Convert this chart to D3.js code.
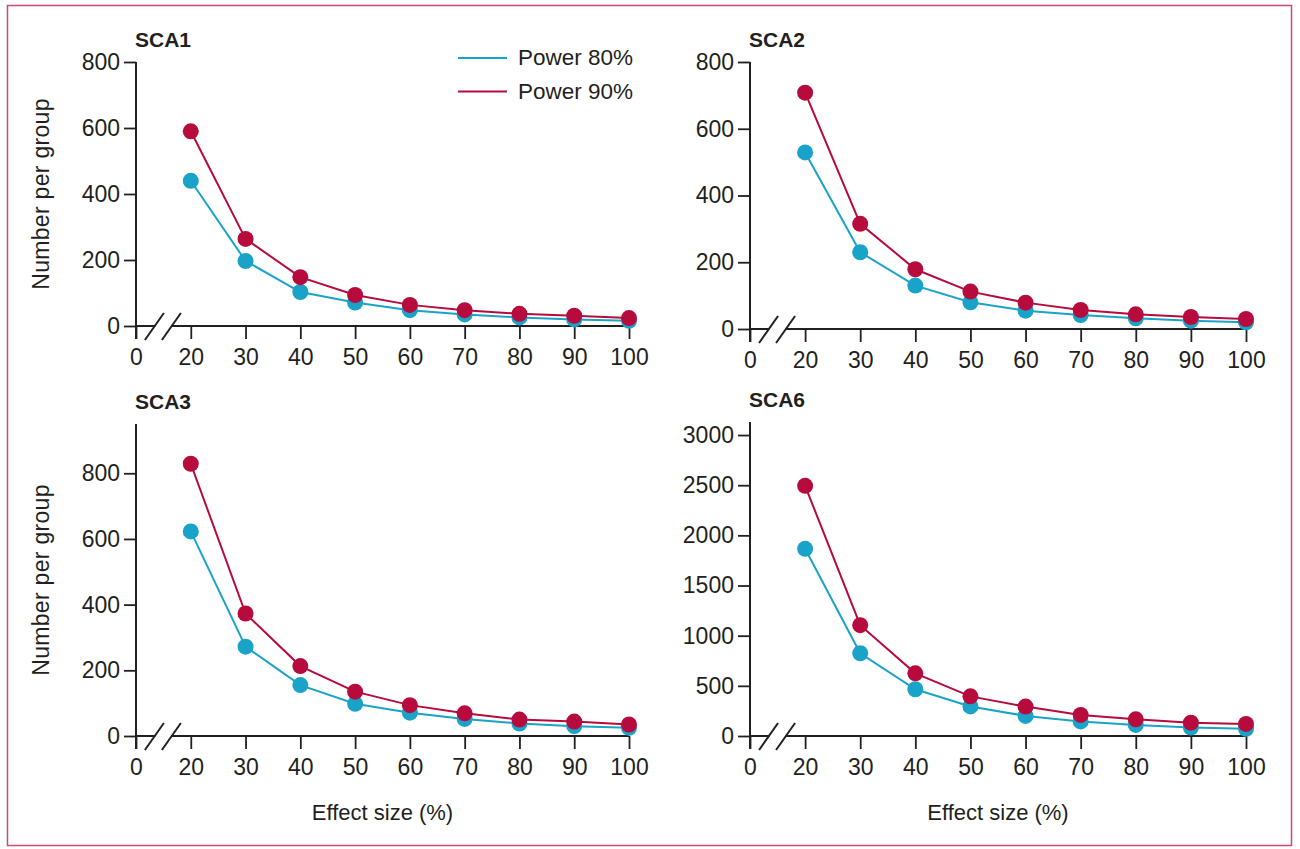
<!DOCTYPE html>
<html>
<head>
<meta charset="utf-8">
<script src="https://cdn.jsdelivr.net/npm/d3@7"></script>
<style>
  body { margin: 0; background: #fff; }
  text { font-family: "Liberation Sans", Arial, sans-serif; fill: #231f20; }
</style>
</head>
<body>
<svg id="chart" width="1300" height="849"></svg>
<script>
// data
const effectSizes = [20, 30, 40, 50, 60, 70, 80, 90, 100];
const xTickLabels = ["0", "20", "30", "40", "50", "60", "70", "80", "90", "100"];
const seriesNames = ["Power 80%", "Power 90%"];

const sca1_80 = [440, 197, 103, 71, 48, 35, 26, 20, 16];
const sca1_90 = [590, 264, 148, 94, 64, 48, 37, 31, 24];
const sca2_80 = [529, 230, 130, 80, 55, 42, 32, 25, 20];
const sca2_90 = [708, 315, 179, 112, 79, 57, 44, 36, 30];
const sca3_80 = [623, 272, 155, 98, 71, 52, 38, 30, 25];
const sca3_90 = [829, 373, 213, 135, 94, 69, 50, 44, 35];
const sca6_80 = [1866, 825, 466, 295, 200, 145, 110, 85, 72];
const sca6_90 = [2494, 1105, 625, 395, 293, 210, 166, 133, 120];

const ticksSmall = [0, 200, 400, 600, 800];
const ticksSca6 = [0, 500, 1000, 1500, 2000, 2500, 3000];

const colors = ["#1aa3c9", "#b70a3d"];
const ink = "#231f20";

// layout of the four panels
const panels = [
  { title: "SCA1", s80: sca1_80, s90: sca1_90, ticks: ticksSmall, yMax: 800, x0: 136, x1: 629, y0: 326, y1: 62, ylabel: true, xlabel: false, legend: true },
  { title: "SCA2", s80: sca2_80, s90: sca2_90, ticks: ticksSmall, yMax: 800, x0: 750, x1: 1246, y0: 329, y1: 62, ylabel: false, xlabel: false, legend: false },
  { title: "SCA3", s80: sca3_80, s90: sca3_90, ticks: ticksSmall, yMax: 950, x0: 136, x1: 629, y0: 736, y1: 424, ylabel: true, xlabel: true, legend: false },
  { title: "SCA6", s80: sca6_80, s90: sca6_90, ticks: ticksSca6, yMax: 3130, x0: 750, x1: 1246, y0: 736, y1: 422, ylabel: false, xlabel: true, legend: false }
];

const svg = d3.select("#chart");

// outer frame
svg.append("rect")
  .attr("x", 7.5).attr("y", 5.5)
  .attr("width", 1284).attr("height", 840)
  .attr("fill", "none")
  .attr("stroke", "#cc4a6e")
  .attr("stroke-width", 1.5);

panels.forEach(p => {
  const g = svg.append("g");

  const x = d3.scalePoint()
    .domain(xTickLabels)
    .range([p.x0, p.x1]);

  const y = d3.scaleLinear()
    .domain([0, p.yMax])
    .range([p.y0, p.y1]);

  const ay = y(0);

  // y axis
  const yAxisG = g.append("g")
    .attr("transform", `translate(${p.x0}, 0)`)
    .call(d3.axisLeft(y).tickValues(p.ticks).tickFormat(d3.format("d"))
      .tickSize(12).tickSizeOuter(0).tickPadding(4));
  yAxisG.select(".domain").remove();

  // x axis
  const xAxisG = g.append("g")
    .attr("transform", `translate(0, ${ay})`)
    .call(d3.axisBottom(x).tickSize(13).tickSizeOuter(0).tickPadding(10));
  xAxisG.select(".domain").remove();

  g.selectAll(".tick line").attr("stroke", ink).attr("stroke-width", 1.8);
  g.selectAll(".tick text").attr("font-size", 23).style("fill", ink);

  // axis lines with the break between 0 and 20
  const mid = (x("0") + x("20")) / 2;
  g.append("line")
    .attr("x1", p.x0).attr("x2", p.x0)
    .attr("y1", y(p.yMax)).attr("y2", ay + 13)
    .attr("stroke", ink).attr("stroke-width", 2);
  g.append("line")
    .attr("x1", p.x0).attr("x2", mid - 8)
    .attr("y1", ay).attr("y2", ay)
    .attr("stroke", ink).attr("stroke-width", 2);
  g.append("line")
    .attr("x1", mid + 8).attr("x2", p.x1)
    .attr("y1", ay).attr("y2", ay)
    .attr("stroke", ink).attr("stroke-width", 2);
  [-8.5, 8.5].forEach(off => {
    g.append("line")
      .attr("x1", mid + off - 10).attr("y1", ay + 14)
      .attr("x2", mid + off + 9).attr("y2", ay - 13)
      .attr("stroke", ink).attr("stroke-width", 2);
  });

  // title
  g.append("text")
    .attr("x", p.x0 - 1)
    .attr("y", p.y1 - 15)
    .attr("font-size", 21)
    .attr("font-weight", "bold")
    .text(p.title);

  if (p.ylabel) {
    g.append("text")
      .attr("transform", `translate(49, ${(p.y0 + p.y1) / 2}) rotate(-90)`)
      .attr("text-anchor", "middle")
      .attr("font-size", 23)
      .attr("letter-spacing", 0.3)
      .text("Number per group");
  }

  if (p.xlabel) {
    g.append("text")
      .attr("x", (p.x0 + p.x1) / 2)
      .attr("y", 820)
      .attr("text-anchor", "middle")
      .attr("font-size", 22)
      .text("Effect size (%)");
  }

  const line = d3.line()
    .x((d, i) => x(String(effectSizes[i])))
    .y(d => y(d));

  [p.s80, p.s90].forEach((vals, k) => {
    g.append("path")
      .attr("d", line(vals))
      .attr("fill", "none")
      .attr("stroke", colors[k])
      .attr("stroke-width", 2);

    g.selectAll(null)
      .data(vals)
      .join("circle")
      .attr("cx", (d, i) => x(String(effectSizes[i])))
      .attr("cy", d => y(d))
      .attr("r", 8)
      .attr("fill", colors[k]);
  });

  if (p.legend) {
    const lg = g.append("g");
    seriesNames.forEach((name, k) => {
      const ly = 58 + k * 33.5;
      lg.append("line")
        .attr("x1", 458).attr("x2", 507)
        .attr("y1", ly).attr("y2", ly)
        .attr("stroke", colors[k])
        .attr("stroke-width", 2);
      lg.append("text")
        .attr("x", 518)
        .attr("y", ly + 7)
        .attr("font-size", 22.5)
        .text(name);
    });
  }
});
</script>
</body>
</html>
